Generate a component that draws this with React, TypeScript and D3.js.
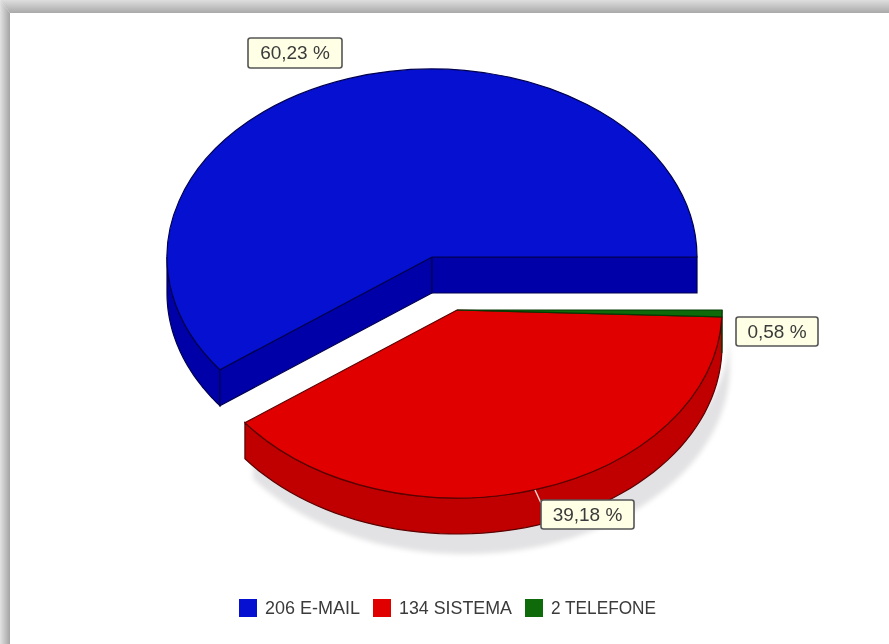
import React from "react";
import * as d3 from "d3";

const categories = ["TELEFONE", "SISTEMA", "E-MAIL"];
const values = [2, 134, 206];
const percentLabels = ["0,58 %", "39,18 %", "60,23 %"];
const topColors = ["#0f6a0a", "#e00000", "#0510d0"];
const sideColors = ["#0b5207", "#c00000", "#0000a8"];
const edgeColors = ["#063a04", "#5a0000", "#000050"];
const legendOrder = [2, 1, 0];

const W = 889, H = 644;
const rx = 265, ry = 188, depth = 36;
const blueCenter: [number, number] = [432, 257];
const redCenter: [number, number] = [457, 310];

const pie = d3.pie<number>().sort(null).startAngle(Math.PI / 2).endAngle(Math.PI * 2.5);
const arcs = pie(values);
const arcGen = d3.arc<d3.PieArcDatum<number>>().innerRadius(0).outerRadius(rx);
const yScale = ry / rx;

// point on the ellipse at a d3 arc angle (clockwise from north)
const pt = (a: number, c: [number, number], dy = 0): [number, number] => [
  c[0] + rx * Math.sin(a),
  c[1] - ry * Math.cos(a) + dy,
];
const line = d3.line();

function rimPath(a0: number, a1: number, c: [number, number], d = depth) {
  const visible0 = Math.max(a0, Math.PI / 2);
  const visible1 = Math.min(a1, Math.PI * 1.5);
  if (visible1 <= visible0) return "";
  const steps = d3.range(0, 61).map((i) => visible0 + ((visible1 - visible0) * i) / 60);
  const top = steps.map((a) => pt(a, c));
  const bottom = steps.map((a) => pt(a, c, d)).reverse();
  return line([...top, ...bottom]) + "Z";
}
function cutPath(a: number, c: [number, number]) {
  const p = pt(a, c);
  return line([c, p, [p[0], p[1] + depth], [c[0], c[1] + depth]]) + "Z";
}

const labels = [
  { i: 0, x: 736, y: 317, w: 82, h: 29 },
  { i: 1, x: 541, y: 500, w: 93, h: 29 },
  { i: 2, x: 248, y: 38, w: 94, h: 30 },
];
const legendX = [
  { sw: 239, tx: 265 },
  { sw: 373, tx: 399 },
  { sw: 525, tx: 551 },
];

export default function App() {
  const fontFamily = "'Liberation Sans', Arial, sans-serif";
  const red = arcs[1], blue = arcs[2], green = arcs[0];
  const shadowC: [number, number] = [redCenter[0] + 8, redCenter[1] + 20];
  return (
    <svg width={W} height={H} style={{ position: "fixed", left: 0, top: 0 }} fontFamily={fontFamily}>
      <defs>
        <linearGradient id="gt" x1="0" x2="0" y1="0" y2="1">
          <stop offset="0" stopColor="#dedede" />
          <stop offset="1" stopColor="#a9a9a9" />
        </linearGradient>
        <linearGradient id="gl" x1="0" x2="1" y1="0" y2="0">
          <stop offset="0" stopColor="#e2e2e2" />
          <stop offset="1" stopColor="#a4a4a4" />
        </linearGradient>
        <filter id="soft" x="-10%" y="-10%" width="120%" height="120%">
          <feGaussianBlur stdDeviation="2.5" />
        </filter>
        <filter id="txt" x="-5%" y="-20%" width="110%" height="140%">
          <feGaussianBlur stdDeviation="0.45" />
        </filter>
      </defs>
      <rect width={W} height={H} fill="#fff" />
      <path d={`M0,0L10,13L10,${H}L0,${H}Z`} fill="url(#gl)" />
      <path d={`M0,0L${W},0L${W},13L10,13Z`} fill="url(#gt)" />

      {/* shadow */}
      <g filter="url(#soft)">
        <path d={rimPath(red.startAngle, red.endAngle, shadowC)} fill="#e2e2e4" />
      </g>

      {/* blue slice */}
      <path d={rimPath(blue.startAngle, blue.endAngle, blueCenter)} fill={sideColors[2]} stroke={edgeColors[2]} strokeWidth={1.2} />
      <path d={cutPath(blue.startAngle, blueCenter)} fill={sideColors[2]} stroke={edgeColors[2]} strokeWidth={1.2} />
      <path d={cutPath(blue.endAngle, blueCenter)} fill={sideColors[2]} stroke={edgeColors[2]} strokeWidth={1.2} />
      <g transform={`translate(${blueCenter[0]},${blueCenter[1]}) scale(1,${yScale})`}>
        <path d={arcGen(blue)!} fill={topColors[2]} stroke={edgeColors[2]} strokeWidth={1.2} vectorEffect="non-scaling-stroke" />
      </g>

      {/* red and green slices */}
      <path d={rimPath(red.startAngle, red.endAngle, redCenter)} fill={sideColors[1]} stroke={edgeColors[1]} strokeWidth={1.2} />
      <path d={rimPath(green.startAngle, green.endAngle, redCenter)} fill={sideColors[0]} stroke={edgeColors[0]} strokeWidth={1.2} />
      <g transform={`translate(${redCenter[0]},${redCenter[1]}) scale(1,${yScale})`}>
        <path d={arcGen(red)!} fill={topColors[1]} stroke={edgeColors[1]} strokeWidth={1.2} vectorEffect="non-scaling-stroke" />
        <path d={arcGen(green)!} fill={topColors[0]} stroke={edgeColors[0]} strokeWidth={1.2} vectorEffect="non-scaling-stroke" />
      </g>

      {/* leader */}
      <line x1={535} y1={490} x2={541} y2={503} stroke="#f3d9d0" strokeWidth={1.4} />

      {/* labels */}
      {labels.map((l) => (
        <g key={l.i}>
          <rect x={l.x} y={l.y} width={l.w} height={l.h} rx={2.5} fill="#ffffe6" stroke="#555" strokeWidth={1.6} />
          <text x={l.x + l.w / 2} y={l.y + l.h / 2 + 6} textAnchor="middle" fontSize={19} fill="#3a3a3a" filter="url(#txt)">
            {percentLabels[l.i]}
          </text>
        </g>
      ))}

      {/* legend */}
      {legendOrder.map((idx, k) => (
        <g key={idx}>
          <rect x={legendX[k].sw} y={599} width={18} height={18} fill={topColors[idx]} />
          <text x={legendX[k].tx} y={614} fontSize={18} fill="#3a3a3a" textLength={[95, 113, 105][k]} lengthAdjust="spacingAndGlyphs" filter="url(#txt)">
            {`${values[idx]} ${categories[idx]}`}
          </text>
        </g>
      ))}
    </svg>
  );
}
